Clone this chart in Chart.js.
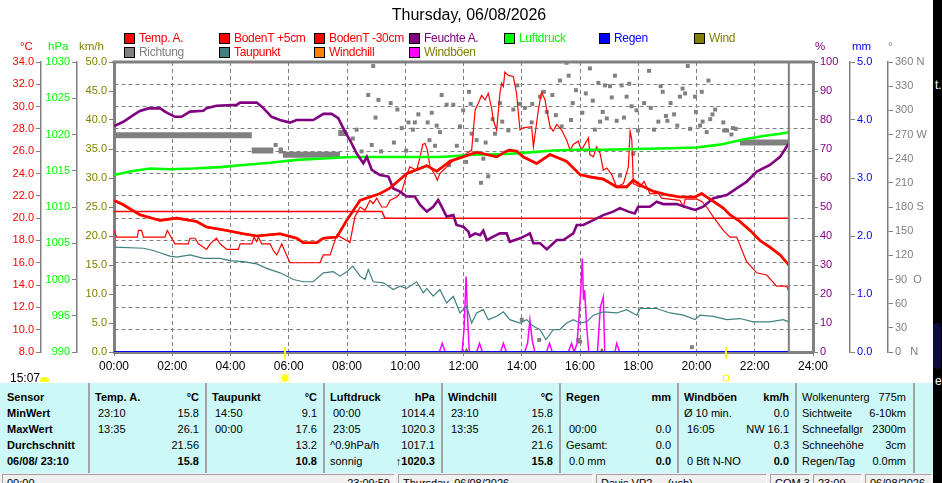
<!DOCTYPE html>
<html>
<head>
<meta charset="utf-8">
<script src="https://cdn.jsdelivr.net/npm/chart.js@4.4.1/dist/chart.umd.min.js"></script>
<style>
  body { margin: 0; width: 942px; height: 483px; overflow: hidden; position: relative; background: #fff;
         font-family: "Liberation Sans", Arial, sans-serif; }
  #chart { position: absolute; left: 0; top: 0; }
  .abs { position: absolute; white-space: nowrap; }
  #title { left: 0; width: 938px; top: 6px; text-align: center; font-size: 16px; line-height: 18px; color: #000; }
  .lg { position: absolute; font-size: 12px; line-height: 12px; letter-spacing: -0.3px; white-space: nowrap; }
  .lg i { position: absolute; left: 0; top: 1px; width: 9px; height: 9px; border: 1px solid #000; }
  .lg span { position: absolute; left: 15px; top: 0; white-space: nowrap; }
  .unit { position: absolute; font-size: 11.5px; line-height: 12px; top: 40px; }
  #stats { position: absolute; left: 0; top: 383px; width: 933px; height: 90px; background: #ccf9f7; font-size: 11px; color: #000; }
  .sep { position: absolute; top: 0; width: 2px; height: 90px; background: #a4a4a4; }
  .row { position: absolute; height: 16px; line-height: 16px; display: flex; justify-content: space-between; white-space: nowrap; }
  .b { font-weight: bold; }
  #status { position: absolute; left: 0; top: 473px; width: 933px; height: 10px; background: #f0f0f0; overflow: hidden; font-size: 11px; }
  #status div { position: absolute; top: 1px; height: 14px; border: 1px solid #a0a0a0; border-right-color: #fff; border-bottom-color: #fff; padding: 2px 4px 0 4px; box-sizing: border-box; white-space: nowrap; }
  #strip { position: absolute; left: 933px; top: 0; width: 9px; height: 483px; background: #000; color: #fff; font-size: 12px; overflow: hidden; }
</style>
</head>
<body>
<canvas id="chart" width="933" height="383"></canvas>
<div id="title" class="abs">Thursday, 06/08/2026</div>
<div id="legend"></div>
<div class="unit" style="left:20px;color:#ff0000">°C</div>
<div class="unit" style="left:48px;color:#00ff00">hPa</div>
<div class="unit" style="left:79px;color:#808000">km/h</div>
<div class="unit" style="left:815px;color:#800080">%</div>
<div class="unit" style="left:852px;color:#0000ff">mm</div>
<div class="unit" style="left:888px;color:#808080">°</div>
<div class="abs" style="left:10px;top:371px;font-size:12px;line-height:14px">15:07</div>
<div class="abs" style="left:40px;top:377px;width:9px;height:5px;background:#ffff00;border-radius:5px 5px 0 0"></div>
<div id="stats"></div>
<div id="status"></div>
<div id="strip">
  <div class="abs" style="left:2px;top:78px">t.</div>
  <div class="abs" style="left:0;top:323px;width:8px;height:46px;background:#0c0c3c;border-radius:4px"></div>
  <div class="abs" style="left:2px;top:374px">e</div>
</div>
<script>
// hours since midnight
const hourLabels = ['00:00','02:00','04:00','06:00','08:00','10:00','12:00','14:00','16:00','18:00','20:00','22:00','24:00'];
const dirLabels = {0: '0   N', 90: '90  O', 180: '180 S', 270: '270 W', 360: '360 N'};
const dataEnd = 23.17;
const sunrise = 5.87;
const sunset = 21.01;

const tempA = [[0,21.6],[0.32,21.2],[0.89,20.3],[1.58,19.8],[2.15,20.0],[2.84,19.7],[3.18,19.2],[3.87,18.9],[4.44,18.6],[4.9,18.4],[5.7,18.6],[6.27,18.2],[6.5,17.8],[6.96,17.8],[7.19,18.2],[7.65,18.3],[7.99,19.8],[8.45,21.6],[9.13,22.2],[9.48,22.7],[10.05,24.0],[10.74,24.7],[11.08,24.2],[11.54,25.1],[11.99,25.5],[12.45,25.9],[12.8,25.7],[13.14,25.5],[13.48,26.0],[13.58,26.1],[13.83,26.0],[14.05,25.5],[14.51,24.9],[14.97,25.7],[15.54,25.1],[16.0,23.9],[16.34,23.7],[16.8,23.5],[17.26,22.8],[17.6,22.8],[17.83,23.4],[18.12,22.9],[18.52,22.4],[18.98,22.1],[19.43,21.9],[19.95,21.9],[20.18,22.2],[20.35,21.9],[20.58,21.5],[20.92,20.9],[21.15,20.3],[21.49,19.7],[21.84,18.9],[22.18,18.0],[22.52,17.4],[22.87,16.7],[23.17,15.8]];

const soil5 = [[0,18.9],[0.09,18.3],[0.8,18.3],[0.84,18.9],[0.95,18.9],[1.01,18.3],[1.75,18.3],[1.83,18.9],[2.09,17.7],[2.55,17.7],[2.61,18.2],[2.78,18.2],[2.9,17.7],[3.18,17.2],[3.3,17.7],[3.52,18.2],[3.64,17.7],[3.87,17.2],[4.27,17.2],[4.33,17.7],[4.73,17.7],[4.81,18.3],[4.9,17.9],[4.96,18.3],[5.07,17.7],[5.36,17.7],[5.47,17.1],[5.59,16.7],[5.76,17.7],[5.87,17.0],[6.04,16.0],[7.07,16.0],[7.19,16.7],[7.42,16.7],[7.65,18.5],[8.05,17.9],[8.1,17.8],[8.27,20.1],[8.45,21.0],[8.62,20.7],[8.79,21.6],[8.9,21.3],[9.02,21.8],[9.19,21.0],[9.36,21.0],[9.48,21.6],[9.71,21.9],[9.88,22.4],[10.05,23.9],[10.16,24.6],[10.39,24.3],[10.51,25.5],[10.6,26.6],[10.68,26.7],[10.76,26.1],[10.85,24.6],[11.02,23.9],[11.1,23.4],[11.19,24.0],[11.42,24.6],[11.65,25.2],[11.88,25.5],[12.11,25.8],[12.28,26.1],[12.4,29.7],[12.51,30.3],[12.62,31.0],[12.74,30.6],[12.85,31.2],[12.97,29.8],[13.02,28.8],[13.14,27.9],[13.25,31.2],[13.31,32.1],[13.37,31.8],[13.42,33.1],[13.54,32.8],[13.71,32.7],[13.82,31.2],[13.94,27.9],[14.05,28.1],[14.34,28.2],[14.4,26.4],[14.57,29.7],[14.68,31.3],[14.8,30.6],[14.86,29.7],[14.97,28.2],[15.08,27.8],[15.2,28.4],[15.37,27.9],[15.54,27.0],[15.66,26.1],[15.77,26.6],[15.94,26.9],[16.05,26.1],[16.29,27.2],[16.34,25.7],[16.46,25.5],[16.57,26.4],[16.69,25.8],[16.8,24.3],[16.92,24.5],[17.09,23.9],[17.26,22.8],[17.49,23.1],[17.66,24.6],[17.72,27.8],[17.78,27.0],[17.83,23.1],[18.06,22.8],[18.2,23.3],[18.4,22.2],[18.69,22.2],[18.8,21.8],[19.43,21.6],[19.55,21.0],[19.61,21.7],[20.01,21.7],[20.18,21.5],[20.35,21.0],[20.58,20.1],[20.92,18.9],[21.15,18.3],[21.38,18.3],[21.72,16.1],[22.07,15.1],[22.41,14.9],[22.75,13.9],[23.1,13.9],[23.17,13.4]];

const soil30 = [[0,20.6],[9.2,20.6],[9.3,20.0],[23.17,20.0]];

const dewPoint = [[0,17.4],[1.01,17.3],[1.35,17.1],[1.58,16.9],[1.92,16.6],[2.15,16.5],[2.61,16.7],[3.07,16.4],[3.64,16.4],[3.98,16.2],[4.44,16.1],[4.9,15.9],[5.24,15.5],[5.7,15.1],[6.16,14.5],[6.5,14.3],[6.84,14.3],[7.19,15.1],[7.53,15.2],[7.76,14.8],[7.99,15.2],[8.2,15.7],[8.45,14.8],[8.62,14.5],[8.73,15.4],[8.9,14.3],[9.25,14.2],[9.59,13.6],[9.82,13.9],[10.05,13.7],[10.39,14.3],[10.62,13.3],[10.74,13.7],[10.96,13.0],[11.19,13.6],[11.42,12.4],[11.65,13.0],[11.88,11.5],[12.11,12.1],[12.28,10.6],[12.45,11.5],[12.68,11.8],[12.85,10.9],[13.14,11.2],[13.37,11.6],[13.59,10.9],[13.94,10.6],[14.17,10.9],[14.4,10.3],[14.63,10.0],[14.83,9.1],[15.08,10.0],[15.31,10.0],[15.54,10.6],[15.77,10.9],[16.0,10.6],[16.23,10.7],[16.46,11.3],[16.8,11.6],[17.26,11.5],[17.6,11.8],[17.95,11.3],[18.06,11.9],[18.63,11.9],[19.09,11.5],[19.55,11.3],[19.95,10.9],[20.12,11.3],[20.58,11.2],[21.04,10.9],[21.49,11.0],[21.95,10.7],[22.52,10.7],[22.98,10.9],[23.17,10.7]];

// wind too weak all day: windchill equals the air temperature
const windChill = tempA;

const humidity = [[0,77.9],[0.32,79.4],[0.66,81.7],[0.89,83.1],[1.18,84.0],[1.58,84.1],[1.75,82.9],[2.09,81.1],[2.32,81.1],[2.61,82.9],[3.07,83.2],[3.18,84.1],[3.52,84.9],[4.21,85.2],[4.33,86.0],[4.9,86.0],[5.13,84.1],[5.41,81.1],[5.7,80.0],[6.04,79.1],[6.27,80.0],[6.84,80.0],[7.02,81.1],[7.19,82.1],[7.47,82.1],[7.7,80.6],[7.93,76.0],[8.1,73.1],[8.33,68.5],[8.56,65.1],[8.68,67.3],[8.85,62.8],[9.13,61.0],[9.42,60.5],[9.59,56.4],[9.82,55.3],[10.05,53.6],[10.33,53.6],[10.51,50.7],[10.74,48.4],[10.96,50.1],[11.13,52.4],[11.25,50.1],[11.42,46.7],[11.65,47.2],[11.76,43.8],[11.99,43.2],[12.17,41.5],[12.22,39.8],[12.4,40.9],[12.57,40.3],[12.68,41.8],[12.8,38.6],[13.02,39.8],[13.25,40.9],[13.48,40.9],[13.59,38.0],[13.94,39.2],[14.17,40.3],[14.28,40.9],[14.4,37.5],[14.63,37.5],[14.86,35.4],[15.2,38.6],[15.43,38.6],[15.77,40.9],[15.89,43.8],[16.11,43.8],[16.46,45.5],[16.8,47.2],[17.14,48.4],[17.37,49.6],[17.66,48.4],[17.88,47.8],[18.0,50.1],[18.4,50.1],[18.63,51.8],[18.86,51.0],[19.32,51.0],[19.6,50.1],[19.95,49.0],[20.23,50.1],[20.58,53.0],[21.04,54.1],[21.38,56.4],[21.72,58.7],[22.07,62.2],[22.52,64.5],[22.87,67.3],[23.17,72.0]];

const pressure = [[0,1014.4],[0.55,1014.9],[1.24,1015.3],[1.92,1015.2],[2.72,1015.3],[3.64,1015.5],[4.44,1015.8],[5.36,1016.1],[6.27,1016.5],[7.19,1016.7],[8.1,1016.9],[8.9,1016.9],[10.05,1016.9],[11.19,1016.9],[12.34,1017.2],[13.48,1017.3],[14.17,1017.5],[15.08,1017.8],[15.77,1017.9],[16.8,1017.9],[17.95,1018.0],[19.09,1018.1],[20.01,1018.2],[20.8,1018.6],[21.61,1019.3],[22.29,1019.8],[22.87,1020.1],[23.17,1020.3]];

const rain = [[0,0],[23.17,0]];

const wind = [[0,0],[12.05,0],[12.1,0.5],[12.15,0],[16.7,0],[16.75,0.5],[16.8,0],[23.17,0]];

const gusts = [[0,0],[11.17,0],[11.27,1.5],[11.37,0],[11.95,0],[12.02,4],[12.09,13.0],[12.14,6],[12.2,0],[12.45,0],[12.55,1.5],[12.65,0],[13.27,0],[13.37,1.5],[13.47,0],[14.1,0],[14.2,1.5],[14.28,5.5],[14.36,2],[14.45,0],[14.85,0],[14.95,1.5],[15.05,0],[15.6,0],[15.71,1.5],[15.8,0],[15.9,1.5],[15.96,5.5],[16.03,11],[16.08,16.1],[16.12,9],[16.16,10.7],[16.22,5],[16.3,0],[16.6,0],[16.7,7.8],[16.8,9.5],[16.85,0],[17.2,0],[17.26,1.5],[17.36,0],[23.17,0]];

// wind direction samples (degrees)
const windDir = [[5.55,257],[8.2,265],[8.33,276],[8.5,249],[8.73,319],[8.85,257],[8.9,355],[8.98,291],[9.08,313],[9.17,249],[9.5,309],[9.61,260],[9.73,301],[9.88,278],[10.03,250],[10.11,285],[10.26,276],[10.33,285],[10.45,295],[10.77,285],[10.83,263],[10.91,297],[11.02,256],[11.08,281],[11.19,273],[11.25,319],[11.42,307],[11.5,232],[11.65,307],[11.77,256],[11.88,280],[11.99,300],[12.09,236],[12.19,323],[12.25,308],[12.28,271],[12.45,263],[12.6,210],[12.68,240],[12.76,260],[12.85,218],[13.0,289],[13.08,271],[13.25,309],[13.33,286],[13.54,275],[13.71,301],[13.85,331],[13.94,308],[14.0,40],[14.11,303],[14.34,285],[14.36,308],[14.6,15],[14.63,317],[14.76,323],[14.86,298],[15.05,319],[15.17,294],[15.31,337],[15.37,280],[15.54,359],[15.61,343],[15.69,288],[15.75,309],[15.86,325],[15.94,15],[16.0,13],[16.08,297],[16.2,321],[16.34,352],[16.44,312],[16.51,276],[16.63,334],[16.69,286],[16.78,298],[16.86,331],[16.92,290],[17.03,330],[17.09,316],[17.2,343],[17.26,287],[17.37,219],[17.43,331],[17.51,291],[17.6,317],[17.69,333],[17.77,305],[17.83,246],[17.94,300],[17.99,275],[18.2,309],[18.37,349],[18.43,303],[18.54,276],[18.69,286],[18.77,330],[18.84,323],[18.95,293],[19.0,287],[19.11,309],[19.23,295],[19.34,281],[19.43,317],[19.52,327],[19.61,321],[19.7,355],[19.78,277],[19.84,6],[19.95,317],[19.98,298],[20.12,281],[20.18,323],[20.21,286],[20.35,273],[20.41,337],[20.47,289],[20.55,295],[20.64,301],[20.92,285],[20.95,275],[21.05,275],[21.2,270],[21.25,278],[21.35,277]];
// runs of identical direction readings (drawn as solid bars of squares)
const windDirRuns = [[0,269],[4.73,269],null,[4.73,250],[5.47,250],null,[5.65,250],[5.8,250],null,[5.8,245],[7.76,245],null,[7.7,272],[8.0,272],null,[21.49,260],[23.17,260]];

const legendItems = [
  ['Temp. A.', '#ff0000', '#ff0000'], ['BodenT +5cm', '#ff0000', '#ff0000'], ['BodenT -30cm', '#ff0000', '#ff0000'],
  ['Feuchte A.', '#800080', '#800080'], ['Luftdruck', '#00ff00', '#00ff00'], ['Regen', '#0000ff', '#0000ff'], ['Wind', '#808000', '#808000'],
  ['Richtung', '#808080', '#808080'], ['Taupunkt', '#408080', '#ff0000'], ['Windchill', '#ff8000', '#ff0000'], ['Windböen', '#ff00ff', '#808000']
];

const statsNames = ['Sensor', 'MinWert', 'MaxWert', 'Durchschnitt', '06/08/ 23:10'];
const statsCols = [
  ['Temp. A.', '°C', [['23:10','15.8'],['13:35','26.1'],['','21.56'],['','15.8']]],
  ['Taupunkt', '°C', [['14:50','9.1'],['00:00','17.6'],['','13.2'],['','10.8']]],
  ['Luftdruck', 'hPa', [['00:00','1014.4'],['23:05','1020.3'],['^0.9hPa/h','1017.1'],['sonnig','↑1020.3']]],
  ['Windchill', '°C', [['23:10','15.8'],['13:35','26.1'],['','21.6'],['','15.8']]],
  ['Regen', 'mm', [['',''],['00:00','0.0'],['Gesamt:','0.0'],['0.0 mm','0.0']]],
  ['Windböen', 'km/h', [['Ø 10 min.','0.0'],['16:05','NW 16.1'],['','0.3'],['0 Bft N-NO','0.0']]]
];
const extraInfo = [['Wolkenunterg','775m'],['Sichtweite','6-10km'],['Schneefallgr','2300m'],['Schneehöhe','3cm'],['Regen/Tag','0.0mm']];
const statusCells = [['00:00', '23:09:59', 2, 395], ['Thursday, 06/08/2026', '', 398, 593], ['Davis VP2 ... (usb)', '', 596, 767], ['COM 3', '', 770, 810], ['23:09', '', 813, 862], ['06/08/2026', '', 865, 932]];

// ---- legend, stats table, status bar ----
const legend = document.getElementById('legend');
legendItems.forEach((it, i) => {
  const row = i < 7 ? 0 : 1, col = i < 7 ? i : i - 7;
  const d = document.createElement('div');
  d.className = 'lg';
  d.style.left = (124 + col * 95) + 'px';
  d.style.top = (32 + row * 14) + 'px';
  d.innerHTML = `<i style="background:${it[1]}"></i><span style="color:${it[2]}">${it[0]}</span>`;
  legend.appendChild(d);
});

const stats = document.getElementById('stats');
const seps = [88, 205, 323, 441, 559, 677, 795, 913];
const addRow = (left, width, r, a, b, cls) => {
  const d = document.createElement('div');
  d.className = 'row';
  d.style.left = left + 'px';
  d.style.width = width + 'px';
  d.style.top = (6 + r * 16) + 'px';
  d.innerHTML = `<span class="${cls[0]}">${a}</span><span class="${cls[1]}">${b}</span>`;
  stats.appendChild(d);
};
seps.forEach(x => {
  const s = document.createElement('div');
  s.className = 'sep';
  s.style.left = x + 'px';
  stats.appendChild(s);
});
statsNames.forEach((n, r) => addRow(7, 78, r, n, '', ['b', '']));
statsCols.forEach((c, i) => {
  const l = seps[i] + 7, w = seps[i + 1] - seps[i] - 13;
  addRow(l, w, 0, c[0], c[1], ['b', 'b']);
  c[2].forEach((v, r) => {
    const a = /^\d\d:\d\d|^0\.0 mm|^0 Bft/.test(v[0]) ? `<span style="padding-left:3px">${v[0]}</span>` : v[0];
    addRow(l, w, r + 1, a, v[1], ['', r === 3 ? 'b' : '']);
  });
});
extraInfo.forEach((v, r) => addRow(seps[6] + 7, seps[7] - seps[6] - 14, r, v[0], v[1], ['', '']));

const status = document.getElementById('status');
statusCells.forEach(c => {
  const d = document.createElement('div');
  d.style.left = c[2] + 'px';
  d.style.width = (c[3] - c[2]) + 'px';
  d.innerHTML = `<span>${c[0]}</span><span style="float:right">${c[1]}</span>`;
  status.appendChild(d);
});

// ---- chart ----
Chart.defaults.font.family = '"Liberation Sans", Arial, sans-serif';
const toXY = arr => arr.map(p => p ? {x: p[0], y: p[1]} : {x: null, y: null});
const line = (label, data, color, width, axis, order) => ({
  type: 'line', label, data: toXY(data), borderColor: color, backgroundColor: color,
  borderWidth: width, pointRadius: 0, yAxisID: axis, order, tension: 0, fill: false, spanGaps: false
});

const grayAxis = '#808080';
const sideScale = (pos, weight, width, min, max, step, color, fmt, extra) => Object.assign({
  position: pos, weight, min, max,
  afterFit: s => { s.width = width; },
  ticks: { stepSize: step, autoSkip: false, color, font: { size: 11 }, padding: 2, callback: fmt },
  grid: { drawOnChartArea: false, tickLength: 5, tickColor: grayAxis, color: grayAxis },
  border: { color: grayAxis, width: 1.5 }
}, extra || {});

const extras = {
  id: 'extras',
  afterDatasetsDraw(chart) {
    const { ctx, chartArea: a, scales: { x } } = chart;
    ctx.save();
    ctx.strokeStyle = grayAxis;
    ctx.lineWidth = 3;
    ctx.beginPath(); ctx.moveTo(a.left - 1.5, a.top); ctx.lineTo(a.right + 1.5, a.top); ctx.stroke();
    const xe = x.getPixelForValue(dataEnd);
    ctx.lineWidth = 2;
    ctx.beginPath(); ctx.moveTo(xe, a.top); ctx.lineTo(xe, a.bottom); ctx.stroke();
    // sunrise / sunset marks
    ctx.strokeStyle = '#ffff00';
    [sunrise, sunset].forEach(t => {
      const xs = Math.round(x.getPixelForValue(t));
      ctx.lineWidth = 2;
      ctx.beginPath(); ctx.moveTo(xs, a.bottom - 5); ctx.lineTo(xs, a.bottom + 7); ctx.stroke();
    });
    const xr = Math.round(x.getPixelForValue(sunrise));
    ctx.fillStyle = '#ffff00';
    ctx.beginPath(); ctx.arc(xr, 378, 3.5, 0, Math.PI * 2); ctx.fill();
    ctx.lineWidth = 1;
    for (let k = 0; k < 8; k++) {
      const ang = k * Math.PI / 4;
      ctx.beginPath();
      ctx.moveTo(xr + Math.cos(ang) * 4.5, 378 + Math.sin(ang) * 4.5);
      ctx.lineTo(xr + Math.cos(ang) * 6, 378 + Math.sin(ang) * 6);
      ctx.stroke();
    }
    const xs2 = Math.round(x.getPixelForValue(sunset));
    ctx.strokeRect(xs2 - 2.5, 375.5, 5, 5);
    ctx.restore();
  }
};

new Chart(document.getElementById('chart'), {
  data: {
    datasets: [
      line('Regen', rain, '#0000ff', 2, 'yR', 0),
      line('Temp. A.', tempA, '#ff0000', 2.6, 'yC', 1),
      line('Feuchte A.', humidity, '#800080', 2.6, 'yH', 2),
      line('Luftdruck', pressure, '#00ff00', 2.6, 'yP', 3),
      line('BodenT +5cm', soil5, '#ff0000', 1.2, 'yC', 4),
      line('BodenT -30cm', soil30, '#ff0000', 1.5, 'yC', 5),
      line('Taupunkt', dewPoint, '#408080', 1.2, 'yC', 6),
      line('Windchill', windChill, '#ff8000', 2.6, 'yC', 7),
      line('Windböen', gusts, '#ff00ff', 1.5, 'yW', 8),
      line('Wind', wind, '#808000', 1.5, 'yW', 9),
      Object.assign(line('Richtung', windDirRuns, '#808080', 6, 'yD', 10), { borderCapStyle: 'butt' }),
      { type: 'scatter', label: 'Richtung', data: toXY(windDir), yAxisID: 'yD', order: 11,
        pointStyle: 'rect', pointRadius: 2.8, pointBackgroundColor: '#808080', pointBorderWidth: 0, showLine: false }
    ]
  },
  options: {
    responsive: false,
    animation: false,
    layout: { padding: { top: 62, left: 0, right: 0, bottom: 0 } },
    plugins: { legend: { display: false }, tooltip: { enabled: false } },
    scales: {
      x: {
        type: 'linear', position: 'bottom', min: 0, max: 24,
        afterFit: s => { s.height = 31; },
        ticks: { stepSize: 2, autoSkip: false, maxRotation: 0, color: '#000', font: { size: 12 }, padding: 3,
                 callback: v => hourLabels[v / 2] },
        grid: { color: grayAxis, lineWidth: 1, tickLength: 4, tickColor: grayAxis },
        border: { color: grayAxis, width: 3, dash: [4, 3] }
      },
      yC: sideScale('left', 3, 41, 8, 34, 2, '#ff0000', v => v.toFixed(1), {
        grid: { drawOnChartArea: true, tickLength: 5, tickColor: grayAxis, color: grayAxis, lineWidth: 1 },
        border: { color: grayAxis, width: 1.5, dash: [4, 3] }
      }),
      yP: sideScale('left', 2, 36, 990, 1030, 5, '#00ff00', v => String(v)),
      yW: sideScale('left', 1, 37, 0, 50, 5, '#808000', v => v.toFixed(1), {
        border: { color: grayAxis, width: 3 }
      }),
      yH: sideScale('right', 1, 37, 0, 100, 10, '#800080', v => String(v), {
        border: { color: grayAxis, width: 3 }
      }),
      yR: sideScale('right', 2, 38, 0, 5, 1, '#0000ff', v => v.toFixed(1)),
      yD: sideScale('right', 3, 45, 0, 360, 30, '#808080', v => dirLabels[v] || String(v))
    }
  },
  plugins: [extras]
});
</script>
</body>
</html>
